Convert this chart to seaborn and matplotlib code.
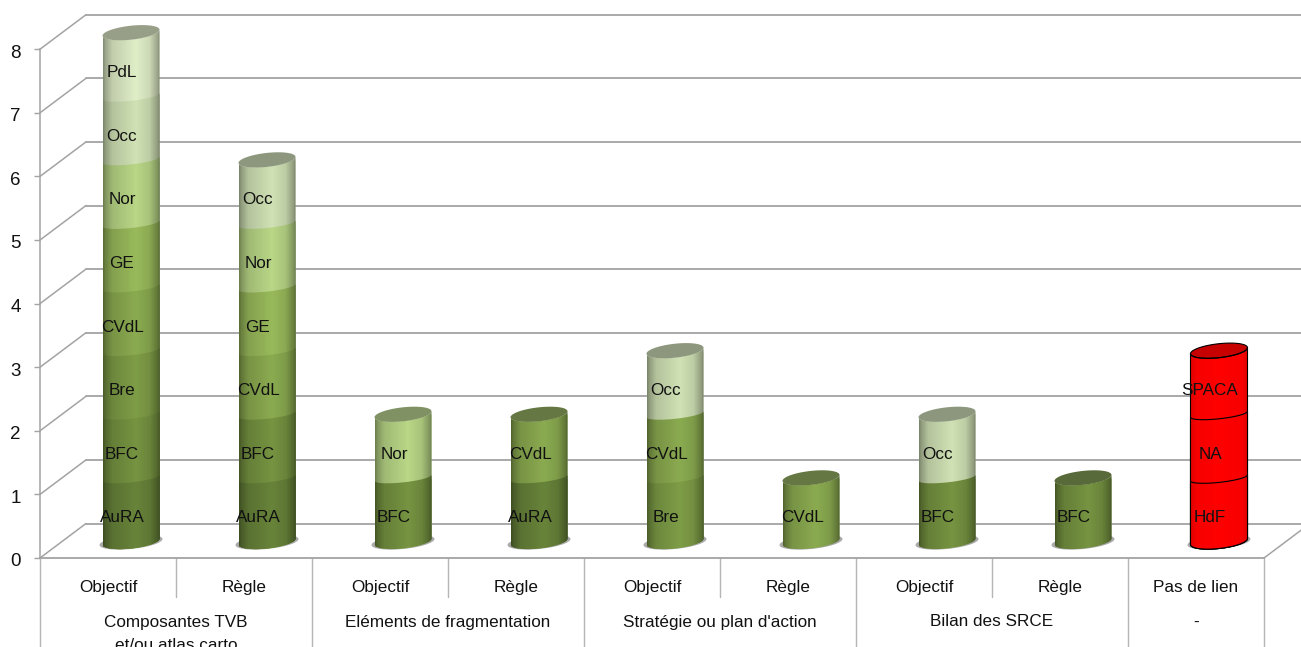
import numpy as np, pandas as pd
import matplotlib
matplotlib.use("Agg")
import matplotlib.pyplot as plt
import seaborn as sns
from matplotlib.path import Path
from matplotlib.patches import PathPatch
from matplotlib.colors import to_rgb
from matplotlib.transforms import ScaledTranslation

# ---- data ----
slot_labels = ["Objectif","Règle","Objectif","Règle","Objectif","Règle","Objectif","Règle","Pas de lien"]
group_labels = ["Composantes TVB\net/ou atlas carto","Eléments de fragmentation","Stratégie ou plan d'action","Bilan des SRCE","-"]
group_slots = [(0,1),(2,3),(4,5),(6,7),(8,8)]
stack_0 = ["AuRA","BFC","Bre","CVdL","GE","Nor","Occ","PdL"]
stack_1 = ["AuRA","BFC","CVdL","GE","Nor","Occ"]
stack_2 = ["BFC","Nor"]
stack_3 = ["AuRA","CVdL"]
stack_4 = ["Bre","CVdL","Occ"]
stack_5 = ["CVdL"]
stack_6 = ["BFC","Occ"]
stack_7 = ["BFC"]
stack_8 = ["HdF","NA","SPACA"]
stacks = [stack_0,stack_1,stack_2,stack_3,stack_4,stack_5,stack_6,stack_7,stack_8]
region_colors = {"AuRA":"#617b36","BFC":"#6e8a3d","Bre":"#769342","CVdL":"#82a04b","GE":"#8fae55",
                 "Nor":"#adc97e","Occ":"#c3d3a9","PdL":"#d2dfbb",
                 "HdF":"#ff0000","NA":"#ff0000","SPACA":"#ff0000"}
y_ticks = list(range(9))

# ---- geometry of the picture ----
W,H = 1301,647
PX_X,PX_Y = 136.0,63.6
LEFT,RIGHT,FLOOR,TOP = 40,1264,558,15
X0 = 131                      # pixel of bar 0
DEPTH_X,DEPTH_Y = 46,34.5
BASE = 16.5/PX_Y              # cylinders stand a little behind the front edge
BAR_W = 57/PX_X

rows = [dict(slot=i,region=r,cum=k+1) for i,s in enumerate(stacks) for k,r in enumerate(s)]
df = pd.DataFrame(rows)

sns.set_style("white")
plt.rcParams["font.family"] = ["Liberation Sans","DejaVu Sans"]
fig = plt.figure(figsize=(W/100,H/100),dpi=100,facecolor="white")
ax = fig.add_axes([LEFT/W,1-FLOOR/H,(RIGHT-LEFT)/W,(FLOOR-TOP)/H])
GRID="#a3a3a3"
TXT="#111111"
FS=12.3

def arc(cx,yc,a,b,tilt,t0,t1,n=40):
    t=np.linspace(t0,t1,n)
    return cx+a*np.cos(t), yc+tilt*np.cos(t)+b*np.sin(t)

A=BAR_W/2; TILT=3/PX_Y
B_CAP=7/PX_Y; B_SEG=4.5/PX_Y; B_BASE=7/PX_Y
shade_x=[0,.04,.16,.58,.82,.96,1]
shade_y=[.62,.74,.92,1.07,.97,.74,.62]
red_x=[0,.1,.5,.9,1]; red_y=[.88,.97,1,.97,.88]
u=np.linspace(0,1,128)

for k in sorted(df.cum.unique(),reverse=True):
    sub=df[df.cum==k]
    before=len(ax.patches)
    sns.barplot(data=sub,x="slot",y="cum",order=list(range(len(stacks))),hue="region",
                palette=region_colors,dodge=False,width=BAR_W,saturation=1,legend=False,
                bottom=BASE,ax=ax,errorbar=None)
    for rect in ax.patches[before:]:
        h=rect.get_height()
        if not h: continue
        cx=rect.get_x()+rect.get_width()/2
        c=np.array(to_rgb(rect.get_facecolor()[:3]))
        yb=rect.get_y(); yt=yb+h
        is_red=c[1]<.2
        is_top=k==len(stacks[int(round(cx))])
        xt,ytop=arc(cx,yt,A,B_CAP if is_top else B_SEG,TILT,np.pi,2*np.pi)
        xb,ybot=arc(cx,yb,A,B_BASE,TILT,2*np.pi,np.pi)
        verts=np.r_[np.c_[xt,ytop],np.c_[xb,ybot],[[xt[0],ytop[0]]]]
        shape=Path(verts,closed=False)
        z=5+(8-k)*.1
        patch=PathPatch(shape,fc="none",ec="none",transform=ax.transData,zorder=z)
        ax.add_patch(patch)
        mult=np.interp(u,red_x,red_y) if is_red else np.interp(u,shade_x,shade_y)
        img=np.clip(c[None,None,:]*mult[None,:,None],0,1)
        im=ax.imshow(img,extent=[cx-A,cx+A,yb-2*B_CAP,yt+2*B_CAP],aspect="auto",interpolation="bilinear",zorder=z)
        im.set_clip_path(patch)
        rect.set_clip_path(patch)
        if is_red:
            ax.add_patch(PathPatch(shape,fc="none",ec="black",lw=.8,zorder=z+.05))
        if is_top:
            xc,yc=arc(cx,yt,A,B_CAP,TILT,0,2*np.pi,80)
            cap=np.array([.78,0,0]) if is_red else c*.62+np.array([.08,.08,.08])
            ax.fill(xc,yc,fc=cap,ec="black" if is_red else "none",lw=.8 if is_red else 0,zorder=z+.02)
        if k==1:
            xs,ys=arc(cx,yb-.5/PX_Y,A+3/PX_X,B_BASE,TILT,0,2*np.pi,60)
            ax.fill(xs,ys,fc="#444444",alpha=.45,ec="none",zorder=2.5)

ax.set_xlim((LEFT-X0)/PX_X,(RIGHT-X0)/PX_X)
ax.set_ylim(0,(FLOOR-TOP)/PX_Y)

# walls: back gridlines, their diagonals, right floor edge
xl,xr=ax.get_xlim()
ddx,ddy=DEPTH_X/PX_X,DEPTH_Y/PX_Y
for v in y_ticks:
    ax.plot([xl+ddx,xr+ddx],[v+ddy,v+ddy],color=GRID,lw=1.3,zorder=1,clip_on=False)
    ax.plot([xl,xl+ddx],[v,v+ddy],color=GRID,lw=1.1,zorder=1,clip_on=False)
ax.plot([xr,xr+ddx],[0,ddy],color=GRID,lw=1.1,zorder=1,clip_on=False)

# axes
sns.despine(ax=ax,top=True,right=True)
ax.spines["left"].set_bounds(0,8)
ax.spines["left"].set_color(GRID); ax.spines["left"].set_linewidth(1.1)
ax.spines["bottom"].set_color(GRID); ax.spines["bottom"].set_linewidth(1.3)
ax.set_yticks(y_ticks); ax.set_yticklabels([str(v) for v in y_ticks])
ax.tick_params(axis="y",length=4.3,width=1,color=GRID,pad=9.5,labelsize=13.5,labelcolor=TXT,left=True)
for lab in ax.get_yticklabels():
    lab.set_transform(lab.get_transform()+ScaledTranslation(0,-2/100,fig.dpi_scale_trans))
slot_c=np.arange(len(slot_labels))-(X0-LEFT-PX_X/2)/PX_X
ax.set_xticks(slot_c); ax.set_xticklabels(slot_labels)
ax.tick_params(axis="x",length=0,pad=15.5,labelsize=FS,labelcolor=TXT,bottom=True)
ax.set_xlabel(""); ax.set_ylabel("")
ax.patch.set_alpha(0)

# multi-level category table under the axis
TBL="#b5b5b5"
ytab=lambda p:(FLOOR-p)/PX_Y
edges=np.arange(len(slot_labels)+1)+xl
major={0,2,4,6,8,9}
for i,e in enumerate(edges):
    ax.plot([e,e],[0,ytab(647 if i in major else 597)],color=TBL,lw=1,clip_on=False,zorder=1)
for lab,(a,b) in zip(group_labels,group_slots):
    ax.text((slot_c[a]+slot_c[b])/2,ytab(614.5),lab,ha="center",va="top",fontsize=FS,color=TXT,
            linespacing=1.7,clip_on=False)

# bar labels
for i,s in enumerate(stacks):
    for k,r in enumerate(s):
        ax.text(i-9/PX_X,k+.5+.13,r,ha="center",va="center",fontsize=FS,color=TXT,zorder=20)

fig.savefig("out.png",dpi=100)
